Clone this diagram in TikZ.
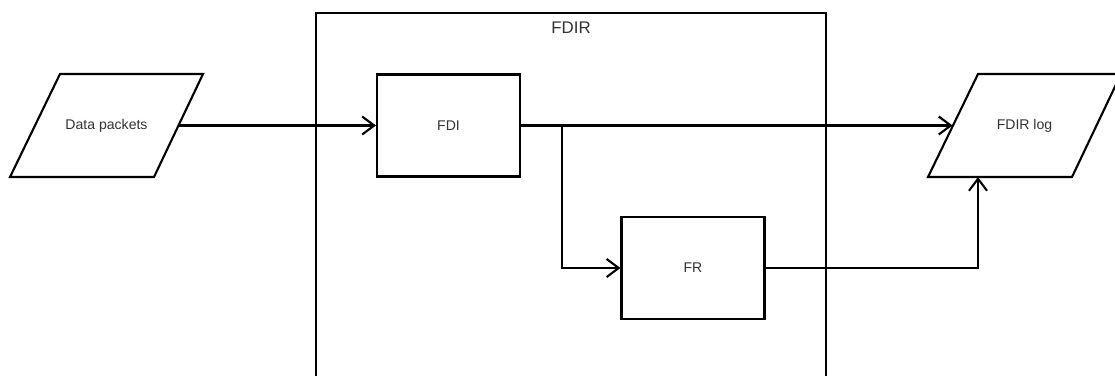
\documentclass[tikz,border=0pt]{standalone}
\usepackage{fontspec}
\setmainfont{Liberation Sans}
\usetikzlibrary{arrows.meta,calc}

\begin{document}
\begin{tikzpicture}[x=0.025cm, y=-0.025cm, line width=1.5pt,
  every node/.append style={font=\fontsize{10}{12}\selectfont, text=black!80},
  block/.style={draw, minimum width=3.575cm, minimum height=2.55cm},
  flow/.style={-{Straight Barb[length=3mm,width=4.5mm]}}]
  \useasboundingbox (0,0) rectangle (1115,376);
  % FDIR
  \draw (316,376) -- (316,13) -- (826,13) -- (826,376);
  \node (fdir) at (571,28) {\fontsize{12}{14}\selectfont FDIR};
  % data packets
  \node (packets) at (106.5,125.5) {Data packets};
  \draw ($(packets)+(-96.5,51.5)$) -- ++(144,0) -- ++(49,-103) -- ++(-143,0) -- cycle;
  \coordinate (packets-out) at ($(packets)+(72,0)$);
  % blocks
  \node[block] (fdi) at (448.5,125.5) {FDI};
  \node[block] (fr) at (693,268) {FR};
  % FDIR log
  \node (log) at (1024.5,125.5) {FDIR log};
  \draw ($(log)+(-96.5,51.5)$) -- ++(144,0) -- ++(49,-103) -- ++(-143,0) -- cycle;
  \coordinate (log-in) at ($(log)+(-72,0)$);
  \coordinate (log-low) at ($(log)+(-46.5,51.5)$);
  % flows
  \draw[flow] (packets-out) -- (fdi.west);
  \draw[flow] (fdi.east) -- (log-in);
  \draw[flow] (fdi.east) -- ++(41,0) |- (fr.west);
  \draw[flow] (fr.east) -| (log-low);
\end{tikzpicture}
\end{document}
